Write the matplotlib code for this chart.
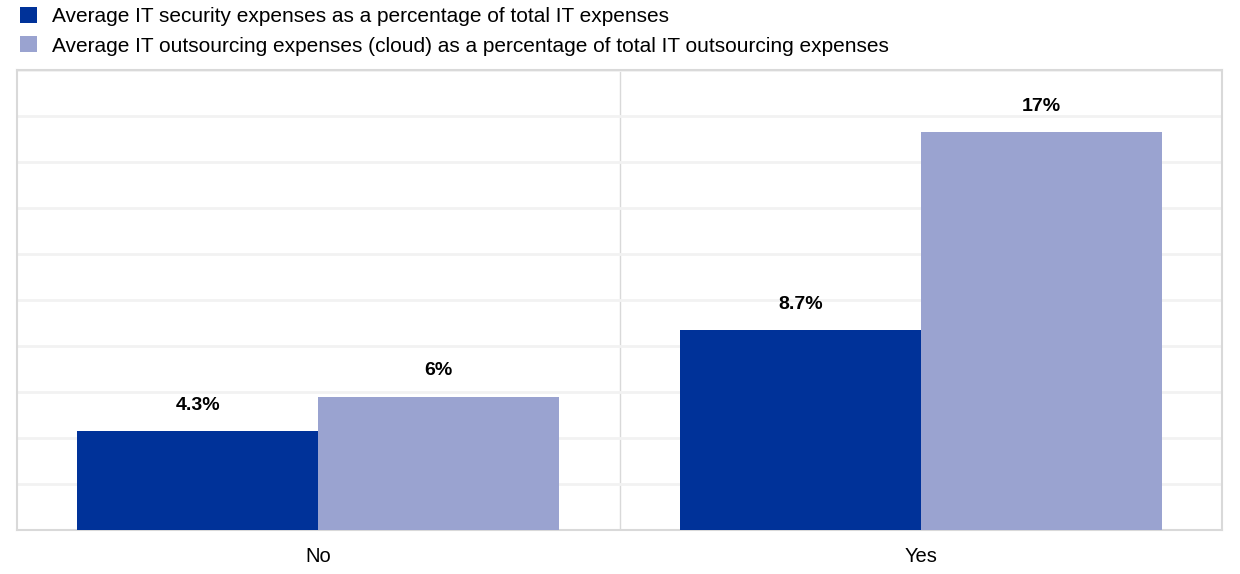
import matplotlib
matplotlib.use("Agg")
import matplotlib.pyplot as plt
import numpy as np

categories = ["No", "Yes"]
security = [4.3, 8.7]
cloud = [5.8, 17.3]
security_labels = ["4.3%", "8.7%"]
cloud_labels = ["6%", "17%"]
series_names = ["Average IT security expenses as a percentage of total IT expenses",
                "Average IT outsourcing expenses (cloud) as a percentage of total IT outsourcing expenses"]

plt.rcParams['font.family'] = ['Liberation Sans', 'DejaVu Sans']

fig = plt.figure(figsize=(12.4, 5.74), dpi=100)
ax = fig.add_axes([17 / 1240, 44 / 574, 1205 / 1240, 460 / 574])

x = np.arange(len(categories))
w = 0.4
b1 = ax.bar(x - w / 2, security, w, color='#003299', label=series_names[0], zorder=3)
b2 = ax.bar(x + w / 2, cloud, w, color='#9aa3d0', label=series_names[1], zorder=3)

for bars, labs in ((b1, security_labels), (b2, cloud_labels)):
    for r, t in zip(bars, labs):
        ax.text(r.get_x() + r.get_width() / 2, r.get_height() + 0.75, t,
                ha='center', va='bottom', fontsize=14, fontweight='bold')

ax.set_xlim(-0.5, 1.5)
ax.set_ylim(0, 20)
ax.set_yticks(np.arange(0, 21, 2))
ax.set_yticklabels([])
ax.tick_params(axis='y', length=0)
ax.set_xticks(x)
ax.set_xticklabels(categories, fontsize=14.5)
ax.tick_params(axis='x', length=0, pad=12)
ax.grid(axis='y', color='#f2f2f2', linewidth=2, zorder=0)
ax.axvline(0.5, color='#d9d9d9', linewidth=1, zorder=1)
for s in ax.spines.values():
    s.set_color('#d9d9d9')
    s.set_linewidth(1.5)

fig.legend(loc='upper left', bbox_to_anchor=(0.006, 1.01), frameon=False,
           fontsize=15, handlelength=0.8, handleheight=0.8, handletextpad=0.75,
           labelspacing=0.5, borderaxespad=0.2)

fig.savefig("out.png", dpi=100)
